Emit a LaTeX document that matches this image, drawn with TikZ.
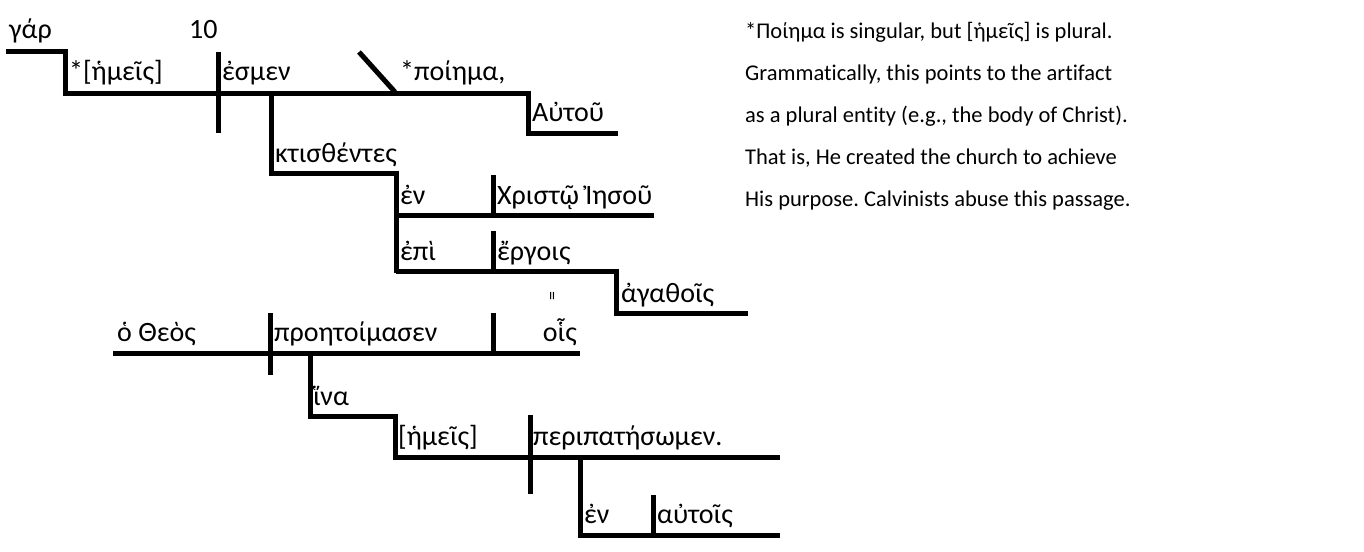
\documentclass[tikz,border=0pt]{standalone}
\usepackage{fontspec}
\setmainfont{Carlito}[Ligatures=NoCommon]
\usepackage{tikz}
\usetikzlibrary{positioning}
\frenchspacing

\begin{document}
\begin{tikzpicture}[x=1pt, y=-1pt,
    word/.style={anchor=base west, inner sep=0pt, font=\fontsize{28}{32}\selectfont},
    note/.style={anchor=base west, inner sep=0pt, font=\fontsize{22.5}{27}\selectfont},
    rule/.style={line width=5pt, line cap=butt, line join=miter}]
    \useasboundingbox (0,0) rectangle (1364,551);
    % first clause
    \node[word] (gar) at (9,39) {γάρ};
    \node[word] (ten) at (189,39) {10};
    \node[word] (hemeis) at (69,81) {*[ἡμεῖς]};
    \node[word] (esmen) at (222,81) {ἐσμεν};
    \node[word] (poiema) at (400,81) {*ποίημα,};
    \node[word] (autou) at (532,121) {Αὐτοῦ};
    \node[word] (ktisthentes) at (275,162) {κτισθέντες};
    \node[word] (en) at (400,204) {ἐν};
    \node[word] (christo) at (497,204) {Χριστῷ Ἰησοῦ};
    \node[word] (epi) at (400,260) {ἐπὶ};
    \node[word] (ergois) at (497,260) {ἔργοις};
    \node[word] (agathois) at (621,302) {ἀγαθοῖς};
    \node[rotate=90, inner sep=0pt, font=\fontsize{18}{18}\selectfont] (eq) at (554,296) {=};
    \draw[rule] (6,52) -| (65,93) -- (528,93) |- (618,133);
    \draw[rule] (218,52) -- (218,133);
    \draw[rule] (359,52) -- (395,92);
    \draw[rule] (271,93) |- (396,173) -- (396,273);
    \draw[rule] (396,215) -- (654,215);
    \draw[rule] (493,175) -- (493,215);
    \draw[rule] (396,271) -| (616,313) -- (748,313);
    \draw[rule] (493,231) -- (493,271);
    % second clause
    \node[word] (theos) at (117,341) {ὁ Θεὸς};
    \node[word] (proetoimasen) at (274,341) {προητοίμασεν};
    \node[word, anchor=base east] (hois) at (577,341) {οἷς};
    \node[word] (hina) at (313,405) {ἵνα};
    \node[word] (hemeis2) at (398,445) {[ἡμεῖς]};
    \node[word] (peripatesomen) at (533,445) {περιπατήσωμεν.};
    \node[word] (en2) at (584,523) {ἐν};
    \node[word] (autois) at (657,523) {αὐτοῖς};
    \draw[rule] (113,353) -- (580,353);
    \draw[rule] (270,313) -- (270,375);
    \draw[rule] (493,313) -- (493,353);
    \draw[rule] (310,353) |- (395,416) |- (780,457);
    \draw[rule] (530,415) -- (530,494);
    \draw[rule] (580,457) |- (780,535);
    \draw[rule] (653,495) -- (653,535);
    % note
    \node[note] (note1) at (745,39) {*Ποίημα is singular, but [ἡμεῖς] is plural.};
    \node[note] (note2) at (745,81) {Grammatically, this points to the artifact};
    \node[note] (note3) at (745,122) {as a plural entity (e.g., the body of Christ).};
    \node[note] (note4) at (745,164) {That is, He created the church to achieve};
    \node[note] (note5) at (745,206) {His purpose. Calvinists abuse this passage.};
\end{tikzpicture}
\end{document}
